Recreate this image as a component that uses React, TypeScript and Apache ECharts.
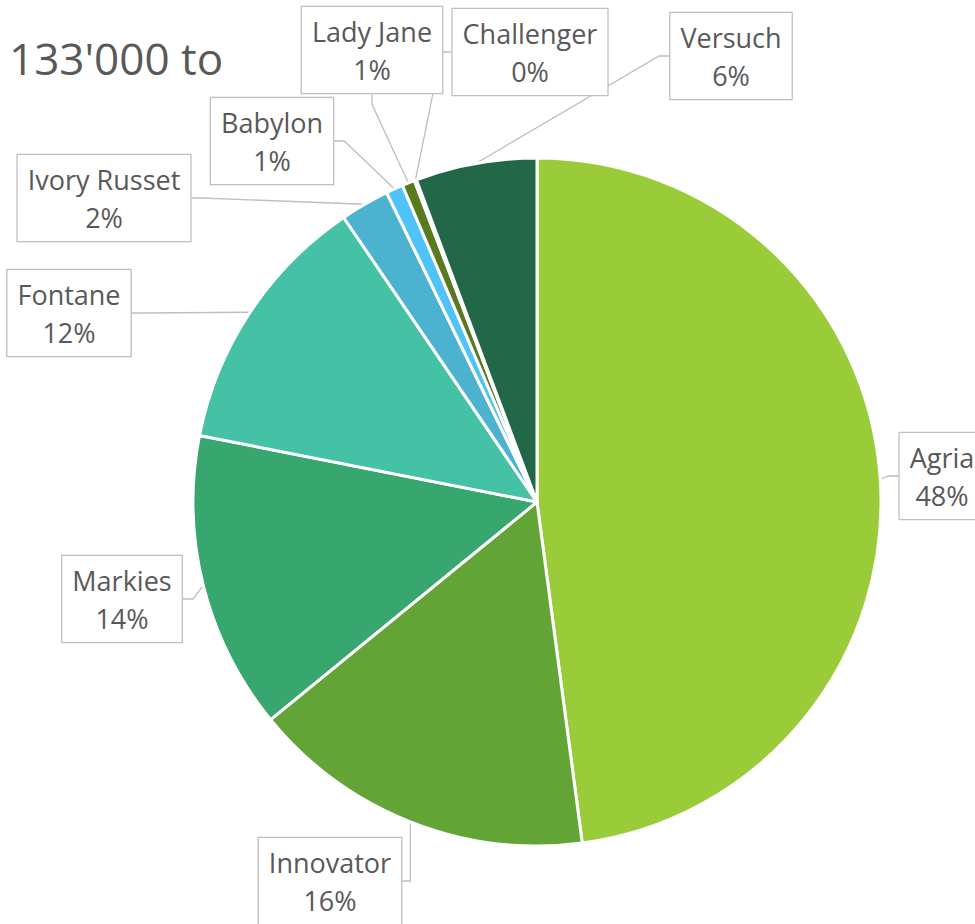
import React, { useEffect, useRef } from "react";
import * as echarts from "echarts";

const categories = ["Agria", "Innovator", "Markies", "Fontane", "Ivory Russet", "Babylon", "Lady Jane", "Challenger", "Versuch"];
const shares = [47.9, 16.2, 14.0, 12.4, 2.3, 0.8, 0.6, 0.1, 5.7];
const sliceColors = ["#9ACB38", "#63A437", "#38A76F", "#45C1A5", "#4BB2CF", "#4FC3F7", "#5A7A1F", "#7FA33A", "#216748"];
const titleText = "133'000 to";

// label box centres (layout only)
const labelCentres: [number, number][] = [
  [942, 476],
  [330, 881],
  [122, 599],
  [69, 313],
  [104, 198],
  [272, 141],
  [372, 50],
  [530, 52],
  [731, 56],
];

const FONT = "'Open Sans', sans-serif";

export default function App() {
  const ref = useRef<HTMLDivElement>(null);
  useEffect(() => {
    if (!ref.current) return;
    const chart = echarts.init(ref.current, undefined, { renderer: "svg" });
    const total = shares.reduce((a, b) => a + b, 0);
    chart.setOption({
      animation: false,
      backgroundColor: "#ffffff",
      graphic: [
        {
          type: "text",
          x: 9,
          y: 58,
          style: {
            text: titleText,
            fontSize: 44,
            fontFamily: FONT,
            fill: "#595959",
            verticalAlign: "middle",
          },
        },
      ],
      series: [
        {
          type: "pie",
          center: [537, 502],
          radius: 344,
          startAngle: 90,
          clockwise: true,
          avoidLabelOverlap: false,
          itemStyle: { borderColor: "#ffffff", borderWidth: 3 },
          data: categories.map((c, i) => ({
            name: c,
            value: shares[i],
            itemStyle: { color: sliceColors[i] },
          })),
          label: {
            show: true,
            formatter: (p: any) => `${p.name}\n${Math.round((p.value / total) * 100)}%`,
            fontFamily: FONT,
            fontSize: 27,
            lineHeight: 38,
            color: "#595959",
            align: "center",
            backgroundColor: "#ffffff",
            borderColor: "#bfbfbf",
            borderWidth: 1.3,
            padding: [5, 10, 5, 10],
          },
          labelLine: {
            show: true,
            length: 10,
            length2: 10,
            lineStyle: { color: "#bfbfbf", width: 1.3 },
          },
          labelLayout: (params: any) => {
            const c = labelCentres[params.dataIndex];
            return { x: c[0], y: c[1], align: "center", verticalAlign: "middle" };
          },
          emphasis: { disabled: true },
        },
      ],
    });
    return () => chart.dispose();
  }, []);
  return (
    <div
      ref={ref}
      style={{ position: "absolute", left: 0, top: 0, width: 975, height: 924 }}
    />
  );
}
